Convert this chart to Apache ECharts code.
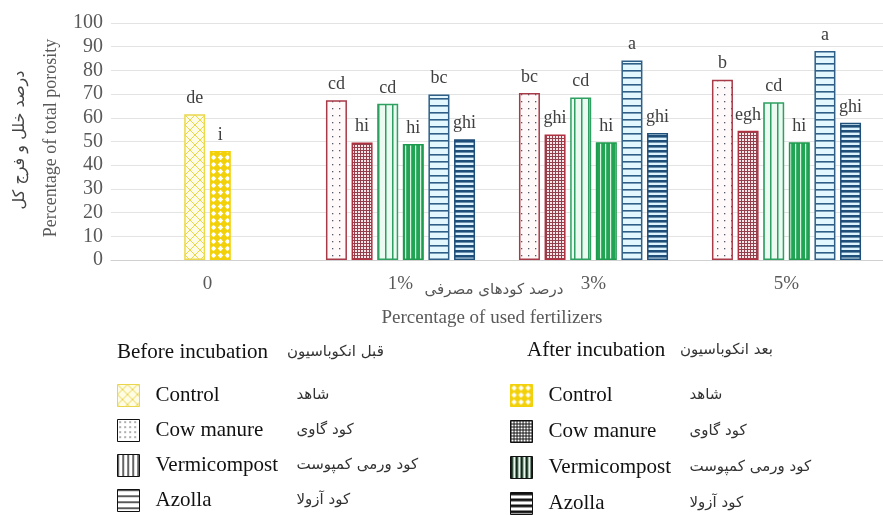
<!DOCTYPE html>
<html>
<head>
<meta charset="utf-8">
<script src="https://cdn.jsdelivr.net/npm/echarts@6/dist/echarts.min.js"></script>
<style>html,body{margin:0;padding:0;background:#fff;}#c{width:883px;height:515px;}</style>
</head>
<body>
<div id="c"></div>
<script>
// ---- data ----
const categories = ['0', '1%', '3%', '5%'];
const controlBefore = [61.5, null, null, null];
const controlAfter  = [46, null, null, null];
const cowBefore     = [null, 67.4, 70.5, 76.1];
const cowAfter      = [null, 49.6, 53.0, 54.5];
const vermiBefore   = [null, 65.9, 68.6, 66.6];
const vermiAfter    = [null, 48.9, 49.7, 49.7];
const azollaBefore  = [null, 69.8, 84.2, 88.2];
const azollaAfter   = [null, 51.0, 53.6, 57.9];

const lettersControlBefore = ['de', '', '', ''];
const lettersControlAfter  = ['i', '', '', ''];
const lettersCowBefore     = ['', 'cd', 'bc', 'b'];
const lettersCowAfter      = ['', 'hi', 'ghi', 'egh'];
const lettersVermiBefore   = ['', 'cd', 'cd', 'cd'];
const lettersVermiAfter    = ['', 'hi', 'hi', 'hi'];
const lettersAzollaBefore  = ['', 'bc', 'a', 'a'];
const lettersAzollaAfter   = ['', 'ghi', 'ghi', 'ghi'];

const yMin = 0, yMax = 100, yStep = 10;

const legendNames = {
  'Control (before)':      ['Control', 'شاهد'],
  'Cow manure (before)':   ['Cow manure', 'کود گاوی'],
  'Vermicompost (before)': ['Vermicompost', 'کود ورمی کمپوست'],
  'Azolla (before)':       ['Azolla', 'کود آزولا'],
  'Control (after)':       ['Control', 'شاهد'],
  'Cow manure (after)':    ['Cow manure', 'کود گاوی'],
  'Vermicompost (after)':  ['Vermicompost', 'کود ورمی کمپوست'],
  'Azolla (after)':        ['Azolla', 'کود آزولا']
};

// ---- patterns ----
function pat(w, h, draw) {
  const c = document.createElement('canvas');
  c.width = w; c.height = h;
  const g = c.getContext('2d');
  draw(g, w, h);
  return { image: c, repeat: 'repeat' };
}
function bg(g, w, h, col) { g.fillStyle = col; g.fillRect(0, 0, w, h); }

const P = {
  controlBefore: pat(10, 10, (g, w, h) => {
    bg(g, w, h, '#FFFCE6');
    g.strokeStyle = '#E9D64C'; g.lineWidth = 1;
    g.beginPath(); g.moveTo(0, 0); g.lineTo(10, 10); g.moveTo(10, 0); g.lineTo(0, 10); g.stroke();
  }),
  controlAfter: pat(7, 7, (g, w, h) => {
    bg(g, w, h, '#F3D10A');
    g.fillStyle = '#FFFFFF';
    g.beginPath(); g.moveTo(3.5, 0.8); g.lineTo(6.2, 3.5); g.lineTo(3.5, 6.2); g.lineTo(0.8, 3.5); g.closePath(); g.fill();
  }),
  cowBefore: pat(7, 7, (g, w, h) => {
    bg(g, w, h, '#FFF9F9');
    g.fillStyle = '#4F5968';
    g.fillRect(3, 3, 1.3, 1.3);
  }),
  cowAfter: pat(3, 3, (g, w, h) => {
    bg(g, w, h, '#F7E6E9');
    g.fillStyle = '#94404C';
    g.fillRect(0, 0, 3, 1); g.fillRect(0, 0, 1, 3);
  }),
  vermiBefore: pat(7, 2, (g, w, h) => {
    bg(g, w, h, '#EBFBF2');
    g.fillStyle = '#2E9E62'; g.fillRect(0, 0, 1.5, h);
  }),
  vermiAfter: pat(5, 2, (g, w, h) => {
    bg(g, w, h, '#22A455');
    g.fillStyle = '#D6F4E0'; g.fillRect(0, 0, 1.2, h);
  }),
  azollaBefore: pat(2, 7, (g, w, h) => {
    bg(g, w, h, '#E3F7FF');
    g.fillStyle = '#2F5F86'; g.fillRect(0, 0, w, 1.6);
  }),
  azollaAfter: pat(2, 5, (g, w, h) => {
    bg(g, w, h, '#DDF4FF');
    g.fillStyle = '#1F4E79'; g.fillRect(0, 0, w, 2.6);
  })
};
// black legend icon patterns
const L = {
  cowBefore: pat(5, 5, (g, w, h) => { bg(g, w, h, '#FFFFFF'); g.fillStyle = '#222'; g.fillRect(2, 2, 1.2, 1.2); }),
  cowAfter: pat(3, 3, (g, w, h) => { bg(g, w, h, '#FFFFFF'); g.fillStyle = '#111'; g.fillRect(0, 0, 3, 1); g.fillRect(0, 0, 1, 3); }),
  vermiBefore: pat(5, 2, (g, w, h) => { bg(g, w, h, '#FFFFFF'); g.fillStyle = '#111'; g.fillRect(0, 0, 1.3, h); }),
  vermiAfter: pat(5, 2, (g, w, h) => { bg(g, w, h, '#E8F6EC'); g.fillStyle = '#0E2A16'; g.fillRect(0, 0, 2.6, h); }),
  azollaBefore: pat(2, 6, (g, w, h) => { bg(g, w, h, '#FFFFFF'); g.fillStyle = '#111'; g.fillRect(0, 0, w, 1.3); }),
  azollaAfter: pat(2, 6, (g, w, h) => { bg(g, w, h, '#FFFFFF'); g.fillStyle = '#111'; g.fillRect(0, 0, w, 2.8); })
};

const serif = '"Liberation Serif", "Times New Roman", serif';
const fa = '"DejaVu Sans", sans-serif';

function barSeries(name, axisIndex, data, letters, fill, border) {
  return {
    name: name, type: 'bar', xAxisIndex: axisIndex, data: data,
    barWidth: 21, barGap: '22%',
    itemStyle: { color: fill, borderColor: border, borderWidth: 1.5 },
    label: {
      show: true, position: 'top', distance: 7,
      fontFamily: serif, fontSize: 18, color: '#404040',
      formatter: p => letters[p.dataIndex]
    }
  };
}

const richLegend = {
  en: { fontFamily: serif, fontSize: 21, color: '#111', width: 141, padding: [0, 0, 0, 11] },
  fa: { fontFamily: fa, fontSize: 15, color: '#333' }
};
function legendFmt(n) { const v = legendNames[n]; return '{en|' + v[0] + '}{fa|' + v[1] + '}'; }

const chart = echarts.init(document.getElementById('c'), null, { renderer: 'canvas' });
chart.setOption({
  animation: false,
  backgroundColor: '#fff',
  grid: { left: 111, top: 23, width: 782, height: 237 },
  xAxis: [
    {
      type: 'category', data: categories,
      axisLine: { lineStyle: { color: '#D0D0D0', width: 1 } },
      axisTick: { show: false },
      axisLabel: { fontFamily: serif, fontSize: 19, color: '#595959', margin: 15 }
    },
    { type: 'category', data: categories, show: false }
  ],
  yAxis: {
    type: 'value', min: yMin, max: yMax, interval: yStep,
    axisLine: { show: false }, axisTick: { show: false },
    splitLine: { lineStyle: { color: '#E3E3E3', width: 1 } },
    axisLabel: { fontFamily: serif, fontSize: 20, color: '#595959', margin: 8 }
  },
  legend: [
    {
      orient: 'vertical', left: 117, top: 384, padding: 0, selectedMode: false,
      itemWidth: 22, itemHeight: 22, itemGap: 12, icon: 'rect',
      formatter: legendFmt, textStyle: { rich: richLegend },
      data: [
        { name: 'Control (before)', itemStyle: { color: P.controlBefore, borderColor: '#E9D64C', borderWidth: 1 } },
        { name: 'Cow manure (before)', itemStyle: { color: L.cowBefore, borderColor: '#111', borderWidth: 1 } },
        { name: 'Vermicompost (before)', itemStyle: { color: L.vermiBefore, borderColor: '#111', borderWidth: 1 } },
        { name: 'Azolla (before)', itemStyle: { color: L.azollaBefore, borderColor: '#111', borderWidth: 1 } }
      ]
    },
    {
      orient: 'vertical', left: 510, top: 384, padding: 0, selectedMode: false,
      itemWidth: 22, itemHeight: 22, itemGap: 13, icon: 'rect',
      formatter: legendFmt, textStyle: { rich: richLegend },
      data: [
        { name: 'Control (after)', itemStyle: { color: P.controlAfter, borderColor: '#F3D10A', borderWidth: 1 } },
        { name: 'Cow manure (after)', itemStyle: { color: L.cowAfter, borderColor: '#111', borderWidth: 1 } },
        { name: 'Vermicompost (after)', itemStyle: { color: L.vermiAfter, borderColor: '#111', borderWidth: 1 } },
        { name: 'Azolla (after)', itemStyle: { color: L.azollaAfter, borderColor: '#111', borderWidth: 1 } }
      ]
    }
  ],
  graphic: [
    { type: 'text', x: 20, y: 140, rotation: Math.PI / 2,
      style: { text: 'درصد خلل و فرج کل', font: '16px "DejaVu Sans"', fill: '#444', align: 'center', verticalAlign: 'middle' } },
    { type: 'text', x: 51, y: 138, rotation: Math.PI / 2,
      style: { text: 'Percentage of total porosity', font: '18px "Liberation Serif"', fill: '#595959', align: 'center', verticalAlign: 'middle' } },
    { type: 'text', x: 494, y: 290,
      style: { text: 'درصد کودهای مصرفی', font: '15px "DejaVu Sans"', fill: '#555', align: 'center', verticalAlign: 'middle' } },
    { type: 'text', x: 492, y: 318,
      style: { text: 'Percentage of used fertilizers', font: '19px "Liberation Serif"', fill: '#595959', align: 'center', verticalAlign: 'middle' } },
    { type: 'text', x: 117, y: 352,
      style: { text: 'Before incubation', font: '21px "Liberation Serif"', fill: '#111', align: 'left', verticalAlign: 'middle' } },
    { type: 'text', x: 287, y: 352,
      style: { text: 'قبل انکوباسیون', font: '15px "DejaVu Sans"', fill: '#333', align: 'left', verticalAlign: 'middle' } },
    { type: 'text', x: 527, y: 350,
      style: { text: 'After incubation', font: '21px "Liberation Serif"', fill: '#111', align: 'left', verticalAlign: 'middle' } },
    { type: 'text', x: 680, y: 350,
      style: { text: 'بعد انکوباسیون', font: '15px "DejaVu Sans"', fill: '#333', align: 'left', verticalAlign: 'middle' } }
  ],
  series: [
    barSeries('Control (before)', 0, controlBefore, lettersControlBefore, P.controlBefore, '#EAD84E'),
    barSeries('Control (after)', 0, controlAfter, lettersControlAfter, P.controlAfter, '#F3D10A'),
    barSeries('Cow manure (before)', 1, cowBefore, lettersCowBefore, P.cowBefore, '#A83A48'),
    barSeries('Cow manure (after)', 1, cowAfter, lettersCowAfter, P.cowAfter, '#B0303F'),
    barSeries('Vermicompost (before)', 1, vermiBefore, lettersVermiBefore, P.vermiBefore, '#2EA060'),
    barSeries('Vermicompost (after)', 1, vermiAfter, lettersVermiAfter, P.vermiAfter, '#1E9A4E'),
    barSeries('Azolla (before)', 1, azollaBefore, lettersAzollaBefore, P.azollaBefore, '#2F5F86'),
    barSeries('Azolla (after)', 1, azollaAfter, lettersAzollaAfter, P.azollaAfter, '#1F4E79')
  ]
});
</script>
</body>
</html>
